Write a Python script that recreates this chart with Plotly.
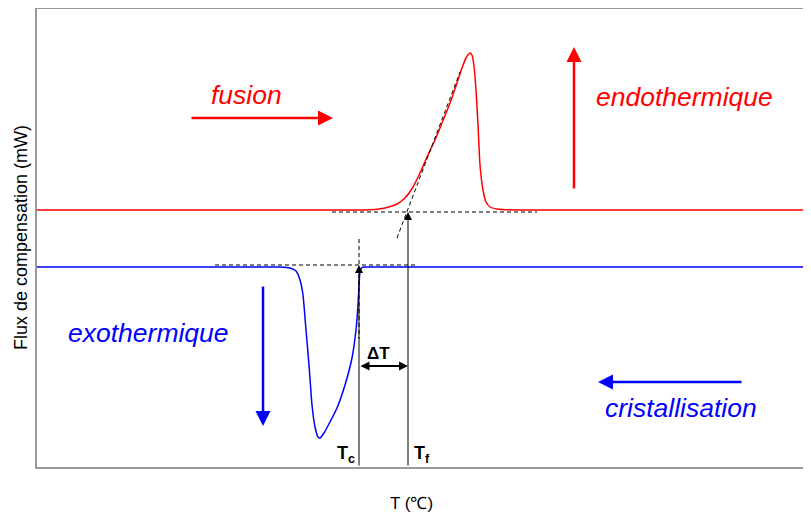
import plotly.graph_objects as go

# Data (arbitrary units: T along x, heat flux along y)
T_fusion = [37, 200, 340, 365, 375, 385, 397, 405, 413, 420, 427, 435, 442, 450, 457, 462, 466, 470, 472,
            474, 476, 478, 480, 483, 486, 490, 497, 505, 520, 600, 811]
F_fusion = [257, 257, 257, 257, 257.5, 259, 263, 269, 280, 294, 310, 327, 344, 364, 384, 399, 409, 414, 412,
            401, 377, 342, 302, 277, 265, 260, 258, 257.3, 257, 257, 257]

T_cryst = [37, 200, 270, 280, 290, 296, 300, 303, 306, 309, 312, 315, 318, 320, 324, 330, 337, 345,
           352, 356, 358, 359, 360, 362, 366, 375, 400, 600, 811]
F_cryst = [200, 200, 200, 200, 199, 196, 187, 172, 137, 102, 62, 40, 30, 29, 34, 45, 59, 82,
           109, 137, 162, 182, 195, 199.5, 200, 200, 200, 200, 200]

# construction lines
T_base_f = [332, 537]; F_base_f = [255, 255]
T_tan_f = [397, 460]; F_tan_f = [229, 395]
T_base_c = [215, 415]; F_base_c = [202, 202]
T_tan_c = [359, 359]; F_tan_c = [228, 128]
Tc = 359
Tf = 408

XR = [37, 811]
YR = [0, 458]

fig = go.Figure()
fig.add_trace(go.Scatter(x=T_fusion, y=F_fusion, mode="lines", line=dict(color="#ff0000", width=1.5, shape="spline", smoothing=0.5), hoverinfo="skip"))
fig.add_trace(go.Scatter(x=T_cryst, y=F_cryst, mode="lines", line=dict(color="#0000ff", width=1.5, shape="spline", smoothing=0.5), hoverinfo="skip"))
for xs, ys in [(T_base_f, F_base_f), (T_tan_f, F_tan_f), (T_base_c, F_base_c), (T_tan_c, F_tan_c)]:
    fig.add_trace(go.Scatter(x=xs, y=ys, mode="lines", line=dict(color="black", width=1, dash="4px,3px"), hoverinfo="skip"))

ann = []
def arrow(x, y, ax, ay, color, width, size, side="end", head=2):
    ann.append(dict(x=x, y=y, ax=ax, ay=ay, xref="x", yref="y", axref="x", ayref="y", text="",
                    showarrow=True, arrowhead=head, arrowsize=size, arrowwidth=width,
                    arrowcolor=color, arrowside=side, startarrowhead=head, startarrowsize=size))

# Tc / Tf vertical arrows
arrow(Tc, F_base_c[0], Tc, 0, "black", 1, 1.6)
arrow(Tf, F_base_f[0], Tf, 0, "black", 1, 1.6)
# delta T double arrow
arrow(Tf, 101, Tc, 101, "black", 1.8, 1.0, side="end+start")
# big arrows
arrow(333, 349, 190, 349, "#ff0000", 2.5, 1.2)
arrow(574, 420, 574, 277, "#ff0000", 2.5, 1.2)
arrow(263, 41, 263, 182, "#0000ff", 2.5, 1.2)
arrow(598, 85, 743, 85, "#0000ff", 2.5, 1.2)

def text(x, y, s, color, size, italic=False):
    ann.append(dict(x=x, y=y, xref="x", yref="y", text=s, showarrow=False,
                    font=dict(family="Liberation Sans, Arial, sans-serif", size=size, color=color,
                              style="italic" if italic else "normal"),
                    xanchor="center", yanchor="middle"))

text(246, 372, "fusion", "#ff0000", 26.5, italic=True)
text(684, 370, "endothermique", "#ff0000", 26.5, italic=True)
text(148, 134, "exothermique", "#0000ff", 26.5, italic=True)
text(681, 59, "cristallisation", "#0000ff", 26.5, italic=True)
text(378, 114, "<b>ΔT</b>", "black", 17)
text(346, 13, "<b>T<sub>c</sub></b>", "black", 18)
text(422, 13, "<b>T<sub>f</sub></b>", "black", 18)

ann.append(dict(x=(411 - 37) / (811 - 37), y=-(503 - 467) / 458, xref="paper", yref="paper",
                text="T (℃)", showarrow=False, xanchor="center", yanchor="middle",
                font=dict(family="Liberation Sans, Arial, sans-serif", size=17, color="black")))
ann.append(dict(x=-(37 - 21) / (811 - 37), y=0.5, xref="paper", yref="paper",
                text="Flux de compensation (mW)", showarrow=False, textangle=-90,
                xanchor="center", yanchor="middle",
                font=dict(family="Liberation Sans, Arial, sans-serif", size=18, color="black")))
fig.update_layout(annotations=ann)

# the page body adds an 8px offset; compensate so the plot area lands at x 37..811, y 9..467
fig.update_layout(
    width=803, height=507,
    margin=dict(l=29, r=0, t=1, b=48, autoexpand=False),
    plot_bgcolor="white", paper_bgcolor="white",
    showlegend=False,
    font=dict(family="Liberation Sans, Arial, sans-serif", color="black"),
    xaxis=dict(range=XR, showgrid=False, zeroline=False, showticklabels=False, ticks="",
               showline=True, linecolor="#999999", linewidth=1.5, mirror=True, fixedrange=True,
               automargin=False),
    yaxis=dict(range=YR, showgrid=False, zeroline=False, showticklabels=False, ticks="",
               showline=True, linecolor="#999999", linewidth=1.5, mirror=False, fixedrange=True,
               automargin=False),
)
fig.write_html("out.html")
